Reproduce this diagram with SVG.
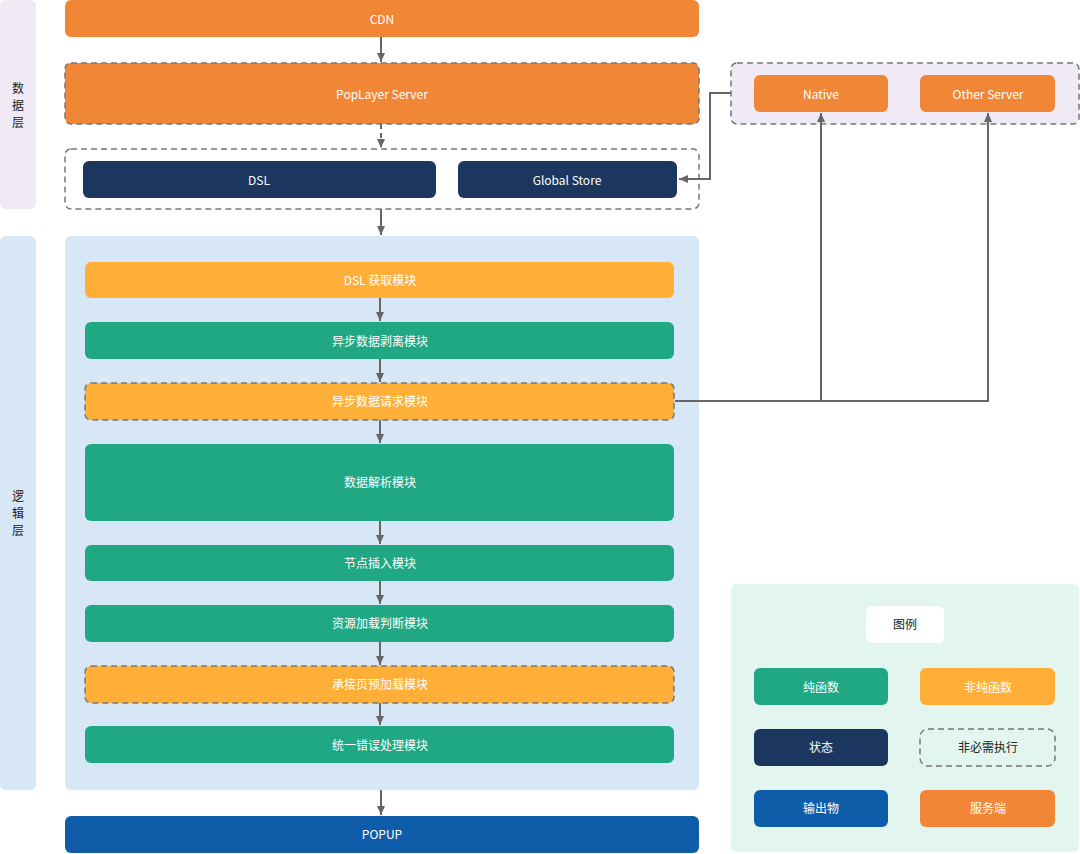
<svg xmlns="http://www.w3.org/2000/svg" width="1080" height="854" viewBox="0 0 1080 854">
<defs>
<marker id="ah" viewBox="0 0 10 10" refX="10" refY="5" markerWidth="9" markerHeight="8" orient="auto-start-reverse" markerUnits="userSpaceOnUse" preserveAspectRatio="none">
<path d="M0,0 L10,5 L0,10 z" fill="#666"/>
</marker>
</defs>
<style>
text{font-family:"PingFang SC","Noto Sans CJK SC","Liberation Sans",sans-serif;font-size:12px;fill:#fff;text-anchor:middle;dominant-baseline:central}
.dark{fill:#222}
.orange{fill:#F18636}
.yellow{fill:#FFAF37}
.green{fill:#1FA883}
.navy{fill:#1B365F}
.blue{fill:#0F5DA8}
.dash{stroke:#777;stroke-width:1.5;stroke-dasharray:6 4}
.conn{fill:none;stroke:#666;stroke-width:2}
</style>
<g id="layer-labels">
<rect x="0" y="0" width="36" height="209" rx="6" fill="#EFEAF6"/>
<text class="dark" x="18" y="87">数</text>
<text class="dark" x="18" y="104">据</text>
<text class="dark" x="18" y="121">层</text>
<rect x="0" y="236" width="36" height="554" rx="6" fill="#D8E7F6"/>
<text class="dark" x="18" y="495">逻</text>
<text class="dark" x="18" y="512">辑</text>
<text class="dark" x="18" y="529">层</text>
</g>
<g id="logic-container"><rect x="65" y="236" width="634" height="554" rx="6" fill="#D8E7F6"/></g>
<g id="store-container"><rect x="65" y="149" width="634" height="60" rx="6" fill="#fff" class="dash"/></g>
<g id="server-container"><rect x="731" y="63" width="348" height="61" rx="6" fill="#EFEAF6" class="dash"/></g>
<g id="legend-container"><rect x="731" y="584" width="348" height="268" rx="6" fill="#E2F6EF"/></g>
<g id="connectors">
<line class="conn" x1="381" y1="37" x2="381" y2="62" marker-end="url(#ah)"/>
<line class="conn" x1="381" y1="124" x2="381" y2="148" stroke-dasharray="5 4" marker-end="url(#ah)"/>
<line class="conn" x1="381" y1="209" x2="381" y2="235" marker-end="url(#ah)"/>
<line class="conn" x1="380" y1="298" x2="380" y2="321" marker-end="url(#ah)"/>
<line class="conn" x1="380" y1="359" x2="380" y2="382" marker-end="url(#ah)"/>
<line class="conn" x1="380" y1="420" x2="380" y2="443" marker-end="url(#ah)"/>
<line class="conn" x1="380" y1="521" x2="380" y2="544" marker-end="url(#ah)"/>
<line class="conn" x1="380" y1="581" x2="380" y2="604" marker-end="url(#ah)"/>
<line class="conn" x1="380" y1="642" x2="380" y2="665" marker-end="url(#ah)"/>
<line class="conn" x1="380" y1="703" x2="380" y2="725" marker-end="url(#ah)"/>
<line class="conn" x1="381" y1="790" x2="381" y2="815" marker-end="url(#ah)"/>
<polyline class="conn" points="731,93 710,93 710,179 679,179" marker-end="url(#ah)"/>
<polyline class="conn" points="675,401 988,401 988,113" marker-end="url(#ah)"/>
<polyline class="conn" points="821,401 821,113" marker-end="url(#ah)"/>
</g>
<g id="cdn"><rect class="orange" x="65" y="0" width="634" height="37" rx="6"/><text x="382" y="18">CDN</text></g>
<g id="poplayer-server"><rect class="orange dash" x="65" y="63" width="634" height="61" rx="6"/><text x="382" y="93">PopLayer Server</text></g>
<g id="dsl"><rect class="navy" x="83" y="161" width="353" height="37" rx="6"/><text x="259" y="179">DSL</text></g>
<g id="global-store"><rect class="navy" x="458" y="161" width="219" height="37" rx="6"/><text x="567" y="179">Global Store</text></g>
<g id="native"><rect class="orange" x="754" y="75" width="134" height="37" rx="6"/><text x="821" y="93">Native</text></g>
<g id="other-server"><rect class="orange" x="920" y="75" width="135" height="37" rx="6"/><text x="988" y="93">Other Server</text></g>
<g id="m1"><rect class="yellow" x="85" y="262" width="589" height="36" rx="6"/><text x="380" y="279">DSL 获取模块</text></g>
<g id="m2"><rect class="green" x="85" y="322" width="589" height="37" rx="6"/><text x="380" y="340">异步数据剥离模块</text></g>
<g id="m3"><rect class="yellow dash" x="85" y="383" width="589" height="37" rx="6"/><text x="380" y="400">异步数据请求模块</text></g>
<g id="m4"><rect class="green" x="85" y="444" width="589" height="77" rx="6"/><text x="380" y="481">数据解析模块</text></g>
<g id="m5"><rect class="green" x="85" y="545" width="589" height="36" rx="6"/><text x="380" y="562">节点插入模块</text></g>
<g id="m6"><rect class="green" x="85" y="605" width="589" height="37" rx="6"/><text x="380" y="622">资源加载判断模块</text></g>
<g id="m7"><rect class="yellow dash" x="85" y="666" width="589" height="37" rx="6"/><text x="380" y="683">承接页预加载模块</text></g>
<g id="m8"><rect class="green" x="85" y="726" width="589" height="37" rx="6"/><text x="380" y="744">统一错误处理模块</text></g>
<g id="popup"><rect class="blue" x="65" y="816" width="634" height="37" rx="6"/><text x="382" y="833">POPUP</text></g>
<g id="legend-title"><rect x="866" y="606" width="78" height="37" rx="6" fill="#fff"/><text class="dark" x="905" y="623">图例</text></g>
<g id="legend-pure"><rect class="green" x="754" y="668" width="134" height="37" rx="6"/><text x="821" y="686">纯函数</text></g>
<g id="legend-impure"><rect class="yellow" x="920" y="668" width="135" height="37" rx="6"/><text x="988" y="686">非纯函数</text></g>
<g id="legend-state"><rect class="navy" x="754" y="729" width="134" height="37" rx="6"/><text x="821" y="746">状态</text></g>
<g id="legend-optional"><rect class="dash" fill="none" x="920" y="729" width="135" height="37" rx="8"/><text class="dark" x="988" y="746">非必需执行</text></g>
<g id="legend-output"><rect class="blue" x="754" y="790" width="134" height="37" rx="6"/><text x="821" y="807">输出物</text></g>
<g id="legend-server"><rect class="orange" x="920" y="790" width="135" height="37" rx="6"/><text x="988" y="807">服务端</text></g>
</svg>
